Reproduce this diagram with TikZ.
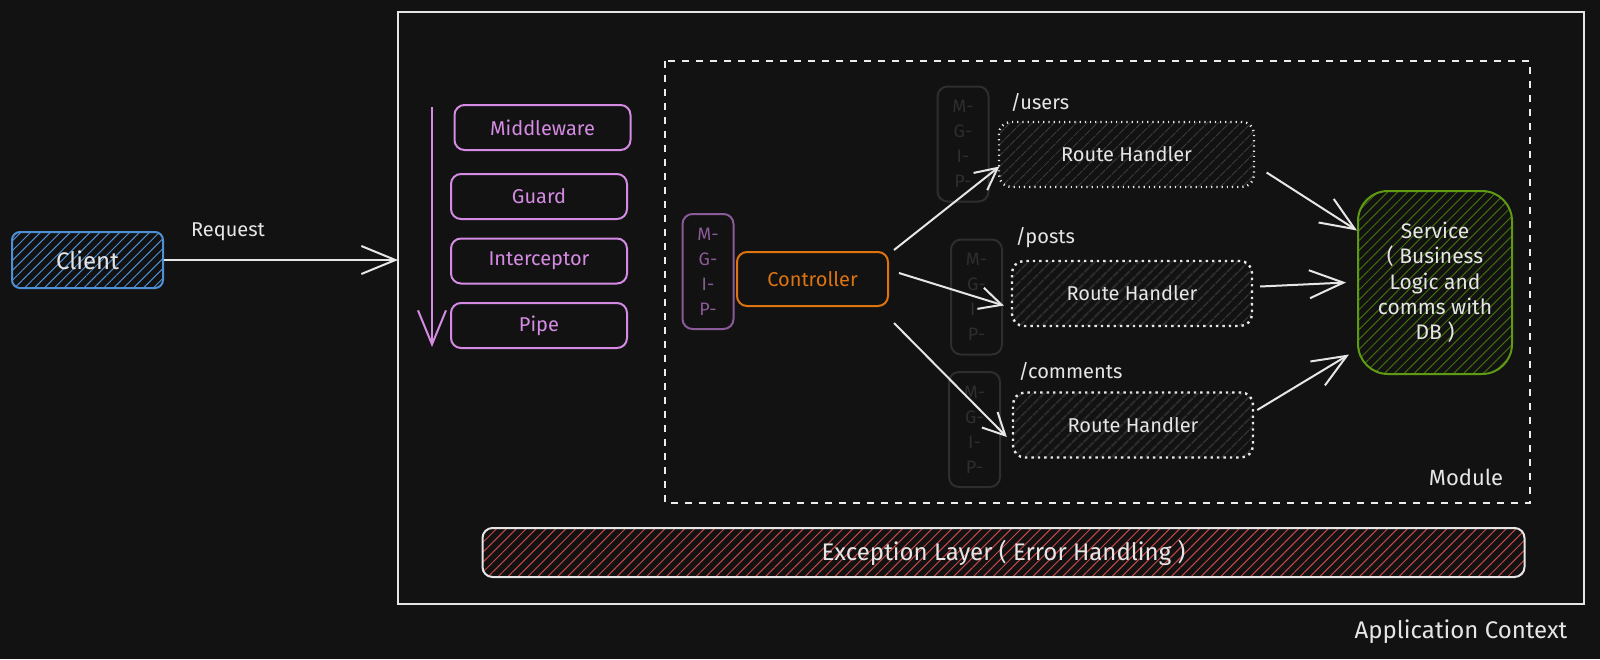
\documentclass[tikz,border=0pt]{standalone}
\usepackage{fontspec}
\setmainfont{Fira Sans}
\usetikzlibrary{arrows.meta,patterns.meta}
\definecolor{bg}{HTML}{121212}
\definecolor{ink}{HTML}{E6E6E6}
\definecolor{cblue}{HTML}{4F8FD3}
\definecolor{violet}{HTML}{D58BE3}
\definecolor{dimviolet}{HTML}{8A5A98}
\definecolor{ctrlorange}{HTML}{DD7410}
\definecolor{svcgreen}{HTML}{5E9A12}
\definecolor{excred}{HTML}{C94848}
\definecolor{ghostgray}{HTML}{2E2E2E}
\definecolor{routegray}{HTML}{3A3A3A}

\begin{document}
\begin{tikzpicture}[x=0.5pt, y=-0.5pt, line width=1pt,
  every node/.style={text=ink, font=\fontsize{10}{12.5}\selectfont},
  hatch/.style={pattern={Lines[angle=45,distance=3.5pt,line width=0.5pt]}, pattern color=#1},
  client/.style={draw=cblue, rounded corners=4pt, hatch=cblue, minimum width=75.5pt, minimum height=28pt, font=\fontsize{12}{14}\selectfont},
  layer/.style={draw=violet, text=violet, rounded corners=5pt, minimum width=88pt, minimum height=22.5pt},
  mgip/.style={draw=#1, text=#1, rounded corners=5pt, minimum width=25.5pt, minimum height=57.5pt, align=center, font=\fontsize{9}{12.5}\selectfont},
  route/.style={draw=ink, dotted, line width=1.2pt, rounded corners=6pt, pattern={Lines[angle=45,distance=4pt,line width=0.6pt]}, pattern color=routegray, minimum height=32.5pt},
  bigarrow/.style={draw=#1, -{Straight Barb[length=17pt,width=14pt]}},
  smallarrow/.style={draw=ink, -{Straight Barb[length=11pt,width=11pt]}}]
  \fill[bg] (0,0) rectangle (1600,659);
  \useasboundingbox (0,0) rectangle (1600,659);
  % frames
  \draw[ink] (398,12) rectangle (1584,604);
  \draw[ink!75, dashed, dash pattern=on 3.5pt off 3.5pt] (665,61) rectangle (1530,503);
  \node at (1461,632) [font=\fontsize{12}{14}\selectfont] {Application Context};
  \node at (1466,477) [font=\fontsize{11}{13}\selectfont] {Module};

  \node[client] (cl) at (87.5,260) {Client};
  \coordinate (req) at (398,260);
  \node at (228,232) {Request};

  \node[layer] (mw) at (542.5,127.5) {Middleware};
  \node[layer] (gd) at (539,196.5) {Guard};
  \node[layer] (ic) at (539,261) {Interceptor};
  \node[layer] (pp) at (539,325.5) {Pipe};
  \coordinate (flowtop) at (432,107);
  \coordinate (flowbot) at (432,347);

  \node[mgip=dimviolet] (mg) at (708,271.5) {M-\\G-\\I-\\P-};
  \node[draw=ctrlorange, text=ctrlorange, rounded corners=5pt, minimum width=75.5pt, minimum height=27pt] (ctrl) at (812.5,279) {Controller};

  \node[mgip=ghostgray] (g1) at (963,144) {M-\\G-\\I-\\P-};
  \node[mgip=ghostgray] (g2) at (976.5,297) {M-\\G-\\I-\\P-};
  \node[mgip=ghostgray] (g3) at (974.5,429.5) {M-\\G-\\I-\\P-};

  \node[route, minimum width=127.5pt] (r1) at (1126.5,154.5) {Route Handler};
  \node[route, minimum width=120pt] (r2) at (1132,293.5) {Route Handler};
  \node[route, minimum width=120pt] (r3) at (1133,425) {Route Handler};
  \node[anchor=west] at (1003,102) {/users};
  \node[anchor=west] at (1008,238) {/posts};
  \node[anchor=west] at (1011,371) {/comments};

  \node[draw=svcgreen, rounded corners=15pt, hatch=svcgreen!70!black, minimum width=77pt, minimum height=91.5pt, align=center, font=\fontsize{10.5}{12.7}\selectfont] (svc) at (1435,282.5) {Service\\( Business\\Logic and\\comms with\\DB )};

  \node[draw=ink, rounded corners=5pt, hatch=excred, minimum width=521pt, minimum height=24.5pt, font=\fontsize{12}{14}\selectfont] (exc) at (1003.5,552.5) {Exception Layer ( Error Handling )};

  \path (cl.east) edge[bigarrow=ink] (req);
  \path (flowtop) edge[bigarrow=violet] (flowbot);
  \path
    ([shift={(5,-1)}]ctrl.north east) edge[smallarrow] ([shift={(1,12)}]r1.west)
    ([shift={(10,-6)}]ctrl.east) edge[smallarrow] ([shift={(-7,12)}]r2.west)
    ([shift={(5,16)}]ctrl.south east) edge[smallarrow] ([shift={(-5,12)}]r3.west);
  \path
    ([shift={(12,18)}]r1.east) edge[bigarrow=ink] ([shift={(0,-52)}]svc.west)
    ([shift={(7,-7)}]r2.east) edge[bigarrow=ink] ([shift={(-11,0)}]svc.west)
    ([shift={(3,-15)}]r3.east) edge[bigarrow=ink] ([shift={(-8,72)}]svc.west);
\end{tikzpicture}
\end{document}
